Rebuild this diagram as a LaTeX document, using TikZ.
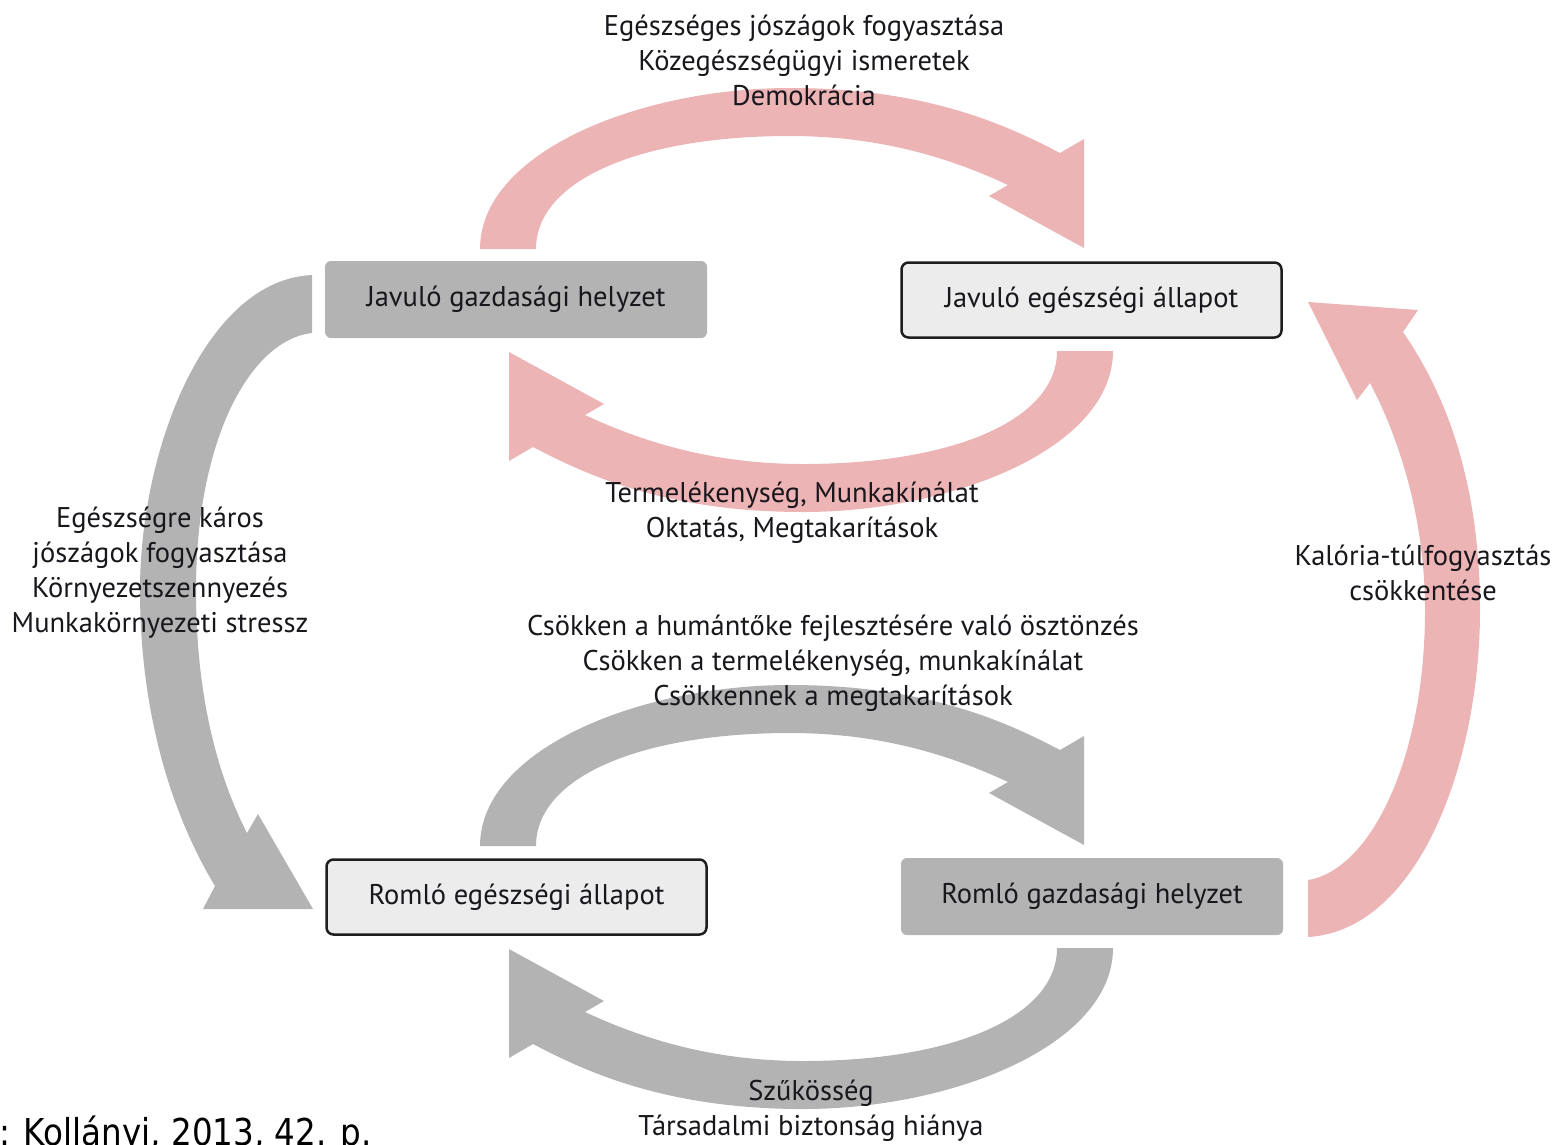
\documentclass[tikz,border=0pt]{standalone}
\usepackage{fontspec}
\setmainfont{PT Sans}
\newfontfamily\srcfont[FakeStretch=0.88]{DejaVu Sans}
\definecolor{pinkc}{RGB}{236,180,181}
\definecolor{grayc}{RGB}{179,179,179}
\definecolor{lightc}{RGB}{236,236,236}
\definecolor{edgec}{RGB}{30,30,30}
\definecolor{txtc}{RGB}{25,22,28}
\def\bandA{(480,249) .. controls (480,152) and (640,88) .. (790,88) .. controls (930,88) and (1010,127) .. (1060,153) -- (1084,139) -- (1084,248) -- (989,196) -- (1008,185) .. controls (950,158) and (880,136) .. (790,136) .. controls (640,136) and (536,180) .. (536,249) -- cycle}
\begin{document}
\begin{tikzpicture}[x=1pt,y=-1pt,
  graybox/.style={fill=grayc,draw=none,rounded corners=6pt,minimum width=382pt,minimum height=77pt,inner sep=0,text=txtc,font=\fontsize{28.5}{35}\selectfont},
  lightbox/.style={fill=lightc,draw=edgec,line width=2.5pt,rounded corners=7pt,minimum width=380pt,minimum height=75pt,inner sep=0,text=txtc,font=\fontsize{28.5}{35}\selectfont},
  lbl/.style={align=center,text=txtc,inner sep=0,font=\fontsize{28.5}{35}\selectfont}]
\useasboundingbox (0,0) rectangle (1557,1144);
% curved arrows
\fill[pinkc] \bandA;
\begin{scope}[rotate around={180:(796.5,300)}]
\fill[pinkc] \bandA;
\end{scope}
\begin{scope}[shift={(0,597)}]
\fill[grayc] \bandA;
\end{scope}
\begin{scope}[shift={(0,597)},rotate around={180:(796.5,300)}]
\fill[grayc] \bandA;
\end{scope}
% left gray arrow
\fill[grayc] (312,275) .. controls (205,280) and (140,450) .. (140,590) .. controls (140,720) and (175,820) .. (215,886) -- (203,909) -- (313,909) -- (258,814) -- (247,833) .. controls (215,770) and (196,690) .. (196,590) .. controls (196,440) and (250,340) .. (312,333) -- cycle;
% right pink arrow
\fill[pinkc] (1308,937) .. controls (1420,930) and (1480,760) .. (1480,610) .. controls (1480,490) and (1450,400) .. (1403,332) -- (1418,310) -- (1308,302) -- (1357,400) -- (1370,383) .. controls (1400,440) and (1425,520) .. (1425,610) .. controls (1425,760) and (1370,870) .. (1308,880) -- cycle;
% boxes
\node[graybox] (jg) at (516,299.5) {Javuló gazdasági helyzet};
\node[lightbox] (je) at (1091.5,300) {Javuló egészségi állapot};
\node[lightbox] (re) at (516.5,897) {Romló egészségi állapot};
\node[graybox] (rg) at (1092,896.5) {Romló gazdasági helyzet};
% labels
\node[lbl] (ltop) at (804,60) {Egészséges jószágok fogyasztása\\Közegészségügyi ismeretek\\Demokrácia};
\node[lbl] (lmid1) at (792,513) {Termelékenység, Munkakínálat\\Oktatás, Megtakarítások};
\node[lbl] (lleft) at (160,573) {Egészségre káros\\jószágok fogyasztása\\Környezetszennyezés\\Munkakörnyezeti stressz};
\node[lbl] (lright) at (1423,573) {Kalória-túlfogyasztás\\csökkentése};
\node[lbl] (lmid2) at (833,663) {Csökken a humántőke fejlesztésére való ösztönzés\\Csökken a termelékenység, munkakínálat\\Csökkennek a megtakarítások};
\node[lbl] (lbot) at (811,1111) {Szűkösség\\Társadalmi biztonság hiánya};
\begin{scope}
\clip (0,0) rectangle (1557,1144);
\node[anchor=base west,inner sep=0,text=black,font=\srcfont\fontsize{37}{40}\selectfont] (src) at (-1,1145) {: Kollányi, 2013, 42. p.};
\end{scope}
\end{tikzpicture}
\end{document}
